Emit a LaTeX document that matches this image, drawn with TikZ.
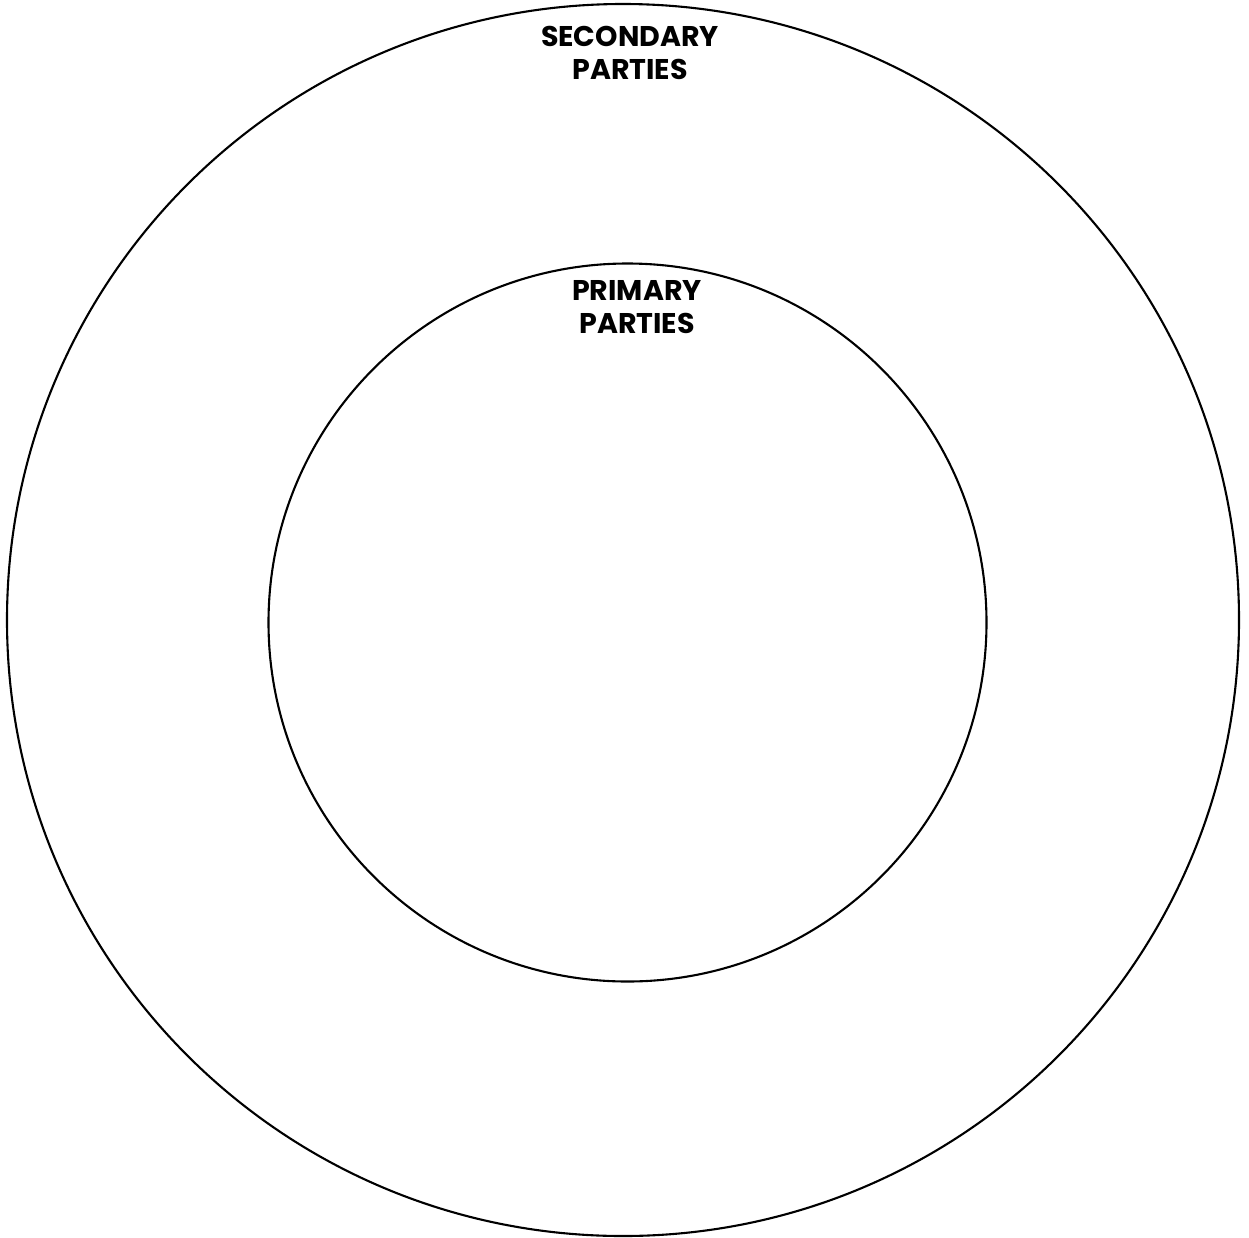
\documentclass[tikz,border=0pt]{standalone}
\usepackage{fontspec}
\setmainfont{Poppins}[BoldFont={* Bold}]
\tikzset{
  ring/.style={draw=black, line width=2.1pt},
  lbl/.style={font=\bfseries\fontsize{28.5}{33}\selectfont, align=center, inner sep=0pt, anchor=north}
}
\begin{document}
\begin{tikzpicture}[x=1pt,y=-1pt]
\useasboundingbox[fill=white] (0,0) rectangle (1249,1237);
\node[ring, circle, minimum size=1232pt, inner sep=0pt] (outer) at (623,620) {};
\node[ring, circle, minimum size=718pt, inner sep=0pt] (inner) at (627.5,622.5) {};
\node[lbl] (sec) at (630,26) {SECONDARY\\PARTIES};
\node[lbl] (pri) at (637,280) {PRIMARY\\PARTIES};
\end{tikzpicture}
\end{document}
